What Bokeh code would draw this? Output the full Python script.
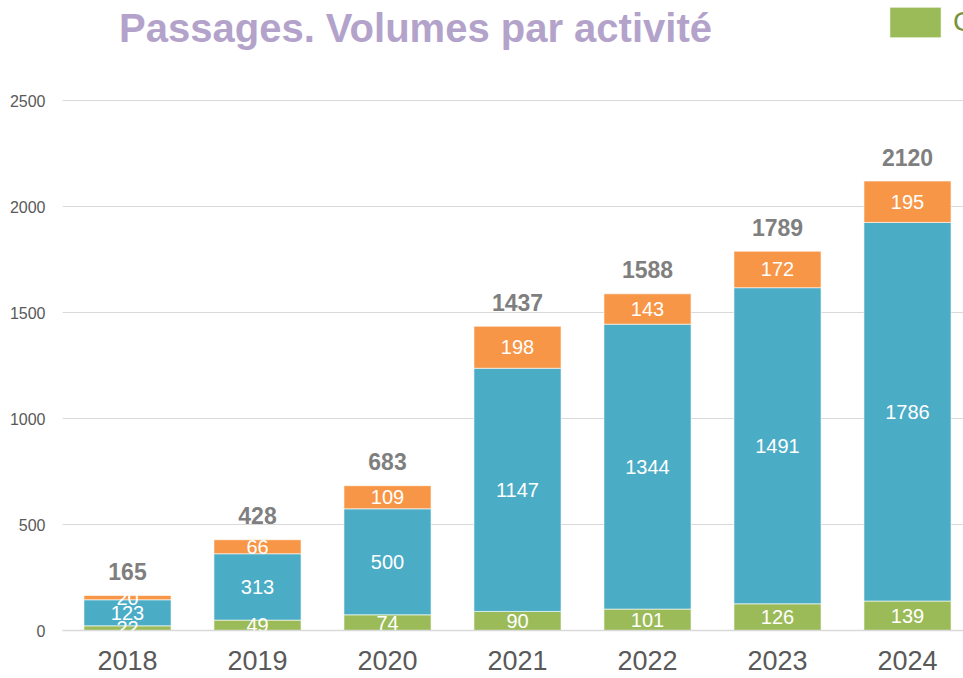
from bokeh.plotting import figure
from bokeh.models import ColumnDataSource, LabelSet, Label, Range1d, FixedTicker, Legend, LegendItem
from bokeh.core.properties import value
from bokeh.embed import file_html
from bokeh.resources import INLINE
import numpy as np

years = ["2018", "2019", "2020", "2021", "2022", "2023", "2024"]
green_vals = [22, 49, 74, 90, 101, 126, 139]
blue_vals = [123, 313, 500, 1147, 1344, 1491, 1786]
orange_vals = [20, 66, 109, 198, 143, 172, 195]
totals = [165, 428, 683, 1437, 1588, 1789, 2120]
y_ticks = [0, 500, 1000, 1500, 2000, 2500]
title_text = "Passages. Volumes par activité"
legend_label = "Consultations"

GREEN = "#9bbb59"
BLUE = "#4bacc6"
ORANGE = "#f79646"

# layout (pixels)
W_PX, H_PX = 963, 678
LEFT, BOTTOM = 62, 48
FRAME_H = H_PX - BOTTOM           # frame from canvas top down to the x axis
PX_PER_UNIT_Y = 530 / 2500        # 0..2500 spans 530 px
PX_PER_CAT = 130
Y_END = FRAME_H / PX_PER_UNIT_Y
X_START = -0.5
X_END = X_START + (W_PX - LEFT) / PX_PER_CAT

def data_x(px):
    return X_START + (px - LEFT) / PX_PER_CAT

def data_y(py):
    return (FRAME_H - py) / PX_PER_UNIT_Y

xs = list(range(len(years)))
g = np.array(green_vals, dtype=float)
b = np.array(blue_vals, dtype=float)
o = np.array(orange_vals, dtype=float)

src = ColumnDataSource(dict(
    x=xs,
    g0=np.zeros(len(xs)), g1=g,
    b0=g, b1=g + b,
    o0=g + b, o1=g + b + o,
    gm=g / 2, bm=g + b / 2, om=g + b + o / 2,
    gl=[str(v) for v in green_vals],
    bl=[str(v) for v in blue_vals],
    ol=[str(v) for v in orange_vals],
    tl=[str(v) for v in totals],
))

p = figure(width=W_PX, height=H_PX, output_backend="svg", toolbar_location=None,
           x_range=Range1d(X_START, X_END), y_range=Range1d(0, Y_END),
           min_border_left=LEFT, min_border_right=0, min_border_top=0, min_border_bottom=BOTTOM)
p.outline_line_color = None
p.background_fill_color = "white"
p.border_fill_color = "white"

W = 0.67
rg = p.vbar(x="x", bottom="g0", top="g1", width=W, source=src, fill_color=GREEN,
            line_color="white", line_alpha=0.6, line_width=1)
p.vbar(x="x", bottom="b0", top="b1", width=W, source=src, fill_color=BLUE,
       line_color="white", line_alpha=0.6, line_width=1)
p.vbar(x="x", bottom="o0", top="o1", width=W, source=src, fill_color=ORANGE,
       line_color="white", line_alpha=0.6, line_width=1)

lab_kw = dict(source=src, text_align="center", text_baseline="middle", text_color="white",
              text_font=value("Liberation Sans"), text_font_size="20px")
p.add_layout(LabelSet(x="x", y="gm", text="gl", **lab_kw))
p.add_layout(LabelSet(x="x", y="bm", text="bl", **lab_kw))
p.add_layout(LabelSet(x="x", y="om", text="ol", **lab_kw))
p.add_layout(LabelSet(x="x", y="o1", text="tl", source=src, y_offset=24, text_align="center",
                      text_baseline="middle", text_color="#7f7f7f",
                      text_font=value("Liberation Sans"),
                      text_font_size="23px", text_font_style="bold"))

# axes
p.xaxis.ticker = FixedTicker(ticks=xs)
p.xaxis.major_label_overrides = {i: y for i, y in enumerate(years)}
p.xaxis.major_label_text_font = "Liberation Sans"
p.xaxis.major_label_text_font_size = "27px"
p.xaxis.major_label_text_color = "#595959"
p.xaxis.major_label_standoff = 14
p.xaxis.major_tick_line_color = None
p.xaxis.minor_tick_line_color = None
p.xaxis.axis_line_color = "#d9d9d9"
p.xaxis.axis_line_width = 1.5

p.yaxis.ticker = FixedTicker(ticks=y_ticks)
p.yaxis.major_label_text_font = "Liberation Sans"
p.yaxis.major_label_text_font_size = "16px"
p.yaxis.major_label_text_color = "#595959"
p.yaxis.major_label_standoff = 11
p.yaxis.major_tick_line_color = None
p.yaxis.minor_tick_line_color = None
p.yaxis.axis_line_color = None

p.xgrid.grid_line_color = None
p.ygrid.grid_line_color = "#d9d9d9"
p.ygrid.grid_line_width = 1

# title
p.add_layout(Label(x=data_x(415), y=data_y(27), text=title_text,
                   text_align="center", text_baseline="middle", text_font="Liberation Sans",
                   text_font_size="40px", text_font_style="bold", text_color="#b3a3cb"))

legend = Legend(items=[LegendItem(label=legend_label, renderers=[rg])],
                location=(883 - LEFT, FRAME_H - 41), orientation="horizontal",
                glyph_width=64, glyph_height=38, label_height=38,
                label_text_font="Liberation Sans", label_text_font_size="28px",
                label_text_color="#77933c",
                label_standoff=6, padding=0, margin=0, border_line_color=None,
                background_fill_alpha=0)
p.add_layout(legend)

open("out.html", "w").write(file_html(p, INLINE))
